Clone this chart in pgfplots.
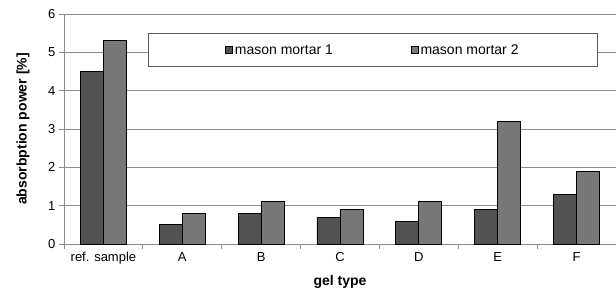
\documentclass[border=0pt]{standalone}
\usepackage{pgfplots}
\pgfplotsset{compat=1.18}
\usepackage{fontspec}
\setmainfont{Liberation Sans}
\definecolor{barA}{RGB}{82,82,82}
\definecolor{barB}{RGB}{120,120,120}
\definecolor{gridc}{RGB}{140,140,140}
\begin{document}
\begin{tikzpicture}
\begin{axis}[
  scale only axis,
  width=552pt, height=230pt,
  xmin=-0.5, xmax=6.5,
  ymin=0, ymax=6,
  ytick={0,1,2,3,4,5,6},
  xtick={-0.5,0.5,1.5,2.5,3.5,4.5,5.5,6.5},
  xticklabels={ref. sample,A,B,C,D,E,F},
  x tick label as interval,
  axis x line*=bottom, axis y line*=left,
  axis line style={gridc, line width=0.8pt, -},
  tick style={gridc, line width=0.8pt},
  tick align=outside,
  major tick length=5pt,
  ymajorgrids,
  grid style={gridc, line width=0.8pt},
  /pgf/number format/assume math mode=true,
  tick label style={font=\fontsize{13}{15}\selectfont, black},
  xlabel={gel type}, ylabel={absorbption power [\%]},
  every axis y label/.style={at={(axis description cs:-0.0743,0.5)}, rotate=90, anchor=center, font=\bfseries\fontsize{14}{16}\selectfont},
  every axis x label/.style={at={(axis description cs:0.5,-0.165)}, anchor=center, font=\bfseries\fontsize{14}{16}\selectfont},
  ybar=0pt, bar width=23pt,
  legend columns=2,
  legend style={at={(0.152,0.917)}, anchor=north west, draw={rgb,255:red,90;green,90;blue,90}, line width=0.8pt, fill=white,
    inner xsep=77pt, inner ysep=9pt, font=\fontsize{14}{16}\selectfont,
    /tikz/every odd column/.style={column sep=0pt},
    /tikz/every even column/.style={column sep=76pt}},
  legend image code/.code={\draw[#1, line width=0.6pt] (0pt,-3.5pt) rectangle (7pt,3.5pt);},
]
\addplot[fill=barA, draw=black, line width=0.9pt] coordinates {(0,4.5) (1,0.5) (2,0.8) (3,0.7) (4,0.6) (5,0.9) (6,1.3)};
\addplot[fill=barB, draw=black, line width=0.9pt] coordinates {(0,5.3) (1,0.8) (2,1.1) (3,0.9) (4,1.1) (5,3.2) (6,1.9)};
\legend{mason mortar 1, mason mortar 2}
\end{axis}
\pgfresetboundingbox
\path (current axis.south west) ++(-64pt,-51pt) rectangle ++(616pt,295pt);
\end{tikzpicture}
\end{document}
